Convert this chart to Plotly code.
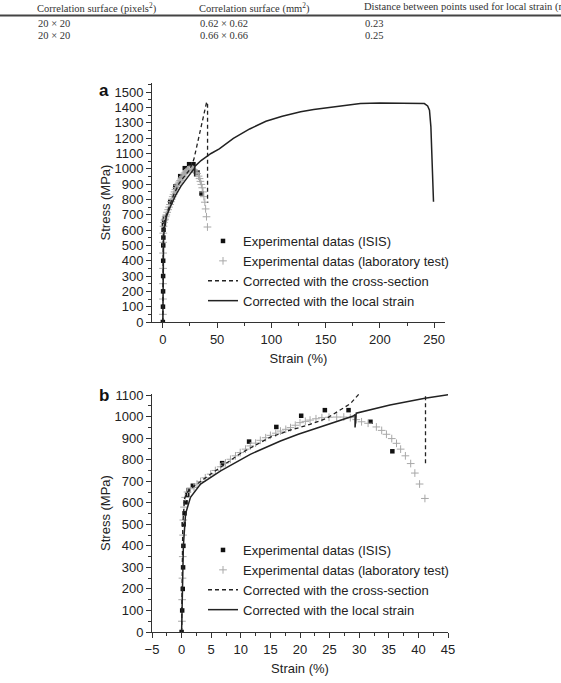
import plotly.graph_objects as go

W, H = 561, 683

# ---------------- data ----------------
isis_strain = [0, 0.1, 0.2, 0.25, 0.3, 0.35, 0.5, 0.67, 0.96, 1.2, 1.9, 6.85, 11.4, 16.0, 20.2, 24.2, 28.2, 31.9, 35.6]
isis_stress = [0, 100, 200, 300, 400, 500, 551, 602, 637, 659, 679, 784, 884, 952, 1004, 1030, 1030, 976, 839]

lab_strain = [0.05, 0.1, 0.15, 0.2, 0.25, 0.3, 0.4, 0.6, 1.0, 1.5, 2.1, 2.6, 3.2, 4.0, 4.9, 5.7, 6.6, 7.4, 8.25,
              9.1, 9.9, 10.8, 11.6, 12.5, 13.3, 14.2, 15.0, 15.9, 16.7, 17.6, 18.4, 19.2, 20.0, 20.9, 21.7,
              22.7, 23.7, 24.9, 26.2, 27.4, 28.5, 29.5, 30.4, 31.5, 32.9, 33.8, 34.6, 35.5, 36.3, 37.0,
              37.8, 38.7, 39.4, 40.2, 41.1]
lab_stress = [50, 150, 250, 350, 450, 520, 580, 625, 650, 665, 671, 687, 699, 716, 733, 750, 767, 785, 802,
              818, 833, 849, 864, 877, 890, 902, 913, 923, 933, 941, 949, 960, 972, 978, 984,
              990, 995, 997, 998, 998, 995, 986, 976, 969, 952, 936, 918, 898, 876, 849,
              818, 782, 738, 687, 620]

cs_strain = [0, 0.2, 0.5, 1.0, 2.0, 5.0, 10.0, 15.0, 18.35, 21.7, 24.5, 26.8, 28.5, 29.8, 32.0, 34.0, 36.0,
             38.0, 40.4, 41.2, 41.2]
cs_stress = [0, 500, 620, 650, 675, 735, 830, 905, 937, 964, 992, 1030, 1060, 1100, 1170, 1231, 1300,
             1370, 1437, 1420, 780]

ls_strain = [0, 0.3, 0.67, 1.5, 3.2, 6.6, 11.6, 16.7, 19.7, 24.5, 29.0, 29.3, 29.3, 29.5, 35.2, 41.1, 44.4,
             52, 65, 80, 95, 110, 127, 139, 160, 182, 200, 220, 235, 241, 244, 245.7, 247, 248, 249.4]
ls_stress = [0, 400, 549, 625, 687, 748, 825, 887, 918, 960, 1003, 1010, 950, 1016, 1054, 1085, 1100,
             1130, 1198, 1260, 1310, 1343, 1372, 1387, 1408, 1426, 1430, 1430, 1430, 1426, 1410, 1383,
             1274, 1100, 785]

names = ["Experimental datas (ISIS)", "Experimental datas (laboratory test)",
         "Corrected with the cross-section", "Corrected with the local strain"]

table_headers = ["Correlation surface (pixels<sup>2</sup>)", "Correlation surface (mm<sup>2</sup>)",
                 "Distance between points used for local strain (mm)"]
table_row1 = ["20 \u00d7 20", "0.62 \u00d7 0.62", "0.23"]
table_row2 = ["20 \u00d7 20", "0.66 \u00d7 0.66", "0.25"]

# ---------------- helpers ----------------
def px(x):
    return x / W

def py(y):
    return 1 - y / H

FONT = "Liberation Sans, Arial, sans-serif"
INK = "#222222"

fig = go.Figure()

for xa, ya, leg in [("x", "y", "legend"), ("x2", "y2", "legend2")]:
    fig.add_trace(go.Scatter(x=isis_strain, y=isis_stress, mode="markers", name=names[0],
                             marker=dict(symbol="square", size=4.5, color="#111111"),
                             xaxis=xa, yaxis=ya, legend=leg))
    fig.add_trace(go.Scatter(x=lab_strain, y=lab_stress, mode="markers", name=names[1],
                             marker=dict(symbol="cross-thin", size=5.5, color="#a8a8a8",
                                         line=dict(width=1, color="#a8a8a8")),
                             xaxis=xa, yaxis=ya, legend=leg))
    fig.add_trace(go.Scatter(x=cs_strain, y=cs_stress, mode="lines", name=names[2],
                             line=dict(color="#222222", width=1.3, dash="4px,3px"),
                             xaxis=xa, yaxis=ya, legend=leg))
    fig.add_trace(go.Scatter(x=ls_strain, y=ls_stress, mode="lines", name=names[3],
                             line=dict(color="#222222", width=1.5),
                             xaxis=xa, yaxis=ya, legend=leg))

axis_common = dict(showline=True, linecolor="#333333", linewidth=1, ticks="outside", ticklen=5,
                   tickwidth=1, tickcolor="#333333", showgrid=False, zeroline=False,
                   tickfont=dict(family=FONT, size=13, color=INK), automargin=False)

fig.update_layout(
    width=W, height=H, margin=dict(l=0, r=0, t=0, b=0),
    paper_bgcolor="white", plot_bgcolor="white",
    xaxis=dict(axis_common, domain=[px(152), px(445)], range=[-10, 260], anchor="y",
               tick0=0, dtick=50, minor=dict(ticks="outside", ticklen=3, dtick=25, tick0=0, tickcolor="#333333"),
               title=dict(text="Strain (%)", font=dict(family=FONT, size=13, color=INK), standoff=8)),
    yaxis=dict(axis_common, domain=[py(322), py(83)], range=[0, 1560], anchor="x",
               tick0=0, dtick=100, minor=dict(ticks="outside", ticklen=3, dtick=50, tick0=0, tickcolor="#333333"),
               title=dict(text="Stress (MPa)", font=dict(family=FONT, size=13, color=INK), standoff=0)),
    xaxis2=dict(axis_common, domain=[px(152), px(448)], range=[-5, 45], anchor="y2",
                tick0=0, dtick=5, minor=dict(ticks="outside", ticklen=3, dtick=2.5, tick0=0, tickcolor="#333333"),
                title=dict(text="Strain (%)", font=dict(family=FONT, size=13, color=INK), standoff=8)),
    yaxis2=dict(axis_common, domain=[py(632), py(394)], range=[0, 1105], anchor="x2",
                tick0=0, dtick=100, minor=dict(ticks="outside", ticklen=3, dtick=50, tick0=0, tickcolor="#333333"),
                title=dict(text="Stress (MPa)", font=dict(family=FONT, size=13, color=INK), standoff=0)),
    legend=dict(x=px(203), y=py(226), xanchor="left", yanchor="top", bgcolor="rgba(0,0,0,0)",
                font=dict(family=FONT, size=13, color=INK), tracegroupgap=0, itemwidth=30),
    legend2=dict(x=px(203), y=py(535), xanchor="left", yanchor="top", bgcolor="rgba(0,0,0,0)",
                 font=dict(family=FONT, size=13, color=INK), tracegroupgap=0, itemwidth=30),
    showlegend=True,
)

annotations = [
    dict(text="<b>a</b>", x=px(104), y=py(90), xref="paper", yref="paper", showarrow=False,
         xanchor="center", yanchor="middle", font=dict(family=FONT, size=17, color="#111111")),
    dict(text="<b>b</b>", x=px(104), y=py(395), xref="paper", yref="paper", showarrow=False,
         xanchor="center", yanchor="middle", font=dict(family=FONT, size=17, color="#111111")),
]
col_x = [36, 198, 363]
TFONT = dict(family="Liberation Serif, Times New Roman, serif", size=10.5, color="#333333")
for i, cx in enumerate(col_x):
    annotations.append(dict(text=table_headers[i], x=px(cx), y=1, xref="paper", yref="paper",
                            xanchor="left", yanchor="top", showarrow=False, borderpad=0, font=TFONT))
    for txt, yy in [(table_row1[i], 23.5), (table_row2[i], 35.5)]:
        annotations.append(dict(text=txt, x=px(cx), y=py(yy), xref="paper", yref="paper",
                                xanchor="left", yanchor="middle", showarrow=False, font=TFONT))
fig.update_layout(annotations=annotations)

fig.add_shape(type="line", xref="paper", yref="paper", x0=0, x1=1, y0=py(15.5), y1=py(15.5),
              line=dict(color="#444444", width=2))

fig.write_html("out.html")
